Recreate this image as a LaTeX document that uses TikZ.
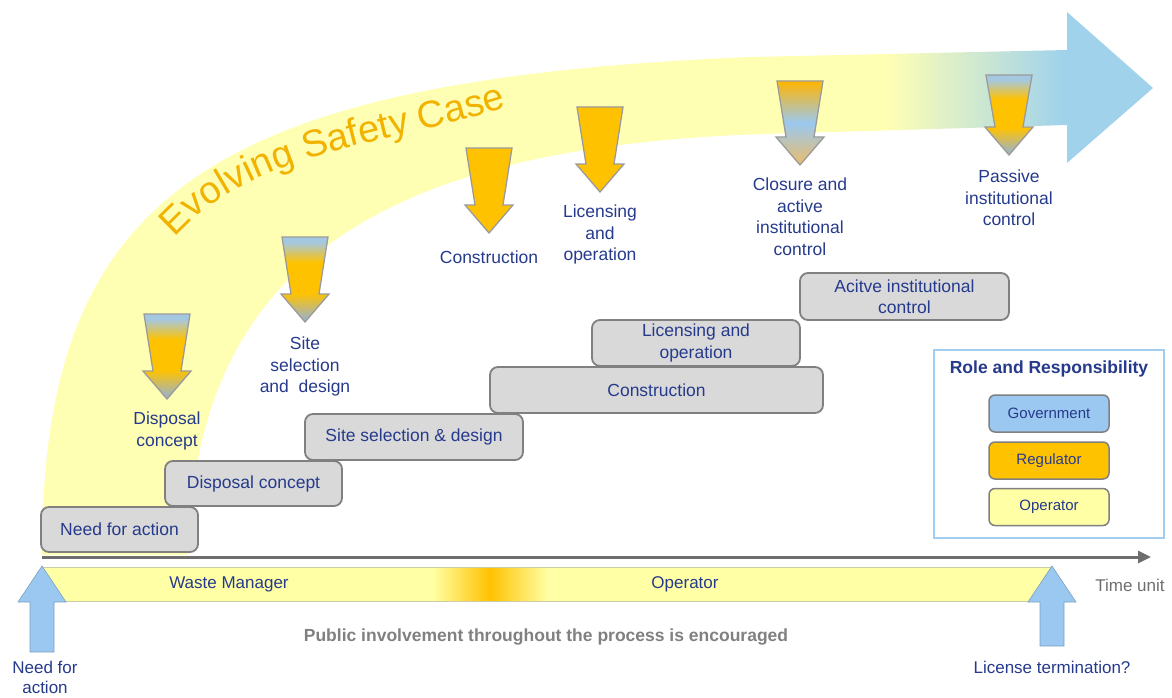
\documentclass[tikz,border=0pt]{standalone}
\usepackage{fontspec}
\setmainfont{Liberation Sans}
\usetikzlibrary{positioning,arrows.meta,decorations.text}

\definecolor{bandyellow}{RGB}{255,255,180}
\definecolor{bandblue}{RGB}{160,210,236}
\definecolor{caseorange}{RGB}{242,178,0}
\definecolor{labelblue}{RGB}{38,58,140}
\definecolor{stepgrey}{RGB}{217,217,217}
\definecolor{stepedge}{RGB}{128,128,128}
\definecolor{govblue}{RGB}{155,200,240}
\definecolor{reggold}{RGB}{255,194,0}
\definecolor{opyellow}{RGB}{255,255,165}
\definecolor{arrowedge}{RGB}{155,155,155}
\definecolor{greyblue}{RGB}{160,180,192}
\definecolor{steelblue}{RGB}{165,200,225}
\definecolor{sandorange}{RGB}{235,188,105}
\definecolor{axisgrey}{RGB}{110,110,110}
\definecolor{legendedge}{RGB}{160,205,240}
\definecolor{baredge}{RGB}{205,205,165}
\definecolor{notegrey}{RGB}{128,128,128}

\pgfdeclarehorizontalshading{bandfade}{100bp}{color(0bp)=(bandyellow); color(63bp)=(bandyellow); color(71bp)=(bandblue); color(100bp)=(bandblue)}
\pgfdeclareverticalshading{gatefade}{100bp}{color(0bp)=(greyblue); color(27bp)=(greyblue); color(42bp)=(reggold); color(60bp)=(reggold); color(72bp)=(steelblue); color(100bp)=(steelblue)}

\newcommand{\casefont}{\fontsize{38}{38}\selectfont}

\tikzset{
  stepbox/.style={draw=stepedge, fill=stepgrey, line width=1.8pt, rounded corners=8pt,
    text=labelblue, font=\fontsize{17.5}{21.5}\selectfont, align=center, inner sep=0pt},
  steplabel/.style={text=labelblue, font=\fontsize{17.5}{21.5}\selectfont, align=center, inner sep=0pt},
  rolebox/.style={draw=stepedge, line width=1.5pt, rounded corners=6pt, minimum width=120pt,
    minimum height=37pt, text=labelblue, font=\fontsize{15}{18}\selectfont},
  gatearrow/.style={draw=arrowedge, line width=1.3pt},
  bluegold/.style={shading=gatefade},
  solidgold/.style={fill=reggold},
  goldblue/.style={top color=reggold!80!orange, bottom color=sandorange, middle color=govblue},
  uparrow/.style={fill=govblue, draw=govblue!80!black, line width=0.6pt},
  bartext/.style={text=labelblue, font=\fontsize{17}{20}\selectfont, inner sep=0pt, align=center}
}

\begin{document}
\begin{tikzpicture}[x=1pt, y=-1pt]
  \useasboundingbox (0,0) rectangle (1172,698);

  % the evolving safety case band
  \path[shading=bandfade] (42,555) .. controls (42,200) and (200,80) .. (750,57) -- (1067,50)
    -- (1067,12) -- (1153,88) -- (1067,163) -- (1067,125) -- (800,133)
    .. controls (400,140) and (195,250) .. (188,555) -- cycle;
  \path[decorate, decoration={text along path, text={|\casefont|Evolving Safety Case},
    text color=caseorange, text align={left indent=14pt}}] (166,248) .. controls (243,150) and (388,146) .. (507,107) -- (580,84);

  % milestone arrows
  \foreach \cx/\ty/\len/\gap/\look/\name/\txt in {167/314/85/13/bluegold/dc/{Disposal\\concept},
      305/237/85/15/bluegold/ss/{Site\\selection\\and~~design},
      489/148/85/18/solidgold/cn/{Construction},
      600/107/85/13/solidgold/lo/{Licensing\\and\\operation},
      800/81/84/13/goldblue/cl/{Closure and\\active\\institutional\\control},
      1009/75/80/15/bluegold/pc/{Passive\\institutional\\control}} {
    \path[gatearrow, \look] (\cx-23,\ty) -- (\cx+23,\ty) -- (\cx+14,\ty+\len-28) -- (\cx+24,\ty+\len-28)
      -- (\cx,\ty+\len) -- (\cx-24,\ty+\len-28) -- (\cx-14,\ty+\len-28) -- cycle;
    \coordinate (\name tip) at (\cx,\ty+\len);
    \node[steplabel, below=\gap pt of \name tip] (\name label) {\txt};
  }

  % steps
  \node[stepbox, minimum width=157pt, minimum height=45pt] (need) at (119.5,529.5) {Need for action};
  \node[stepbox, minimum width=177pt, minimum height=45pt] (disposal) at (253.5,483.5) {Disposal concept};
  \node[stepbox, minimum width=218pt, minimum height=46pt] (site) at (414,437) {Site selection \& design};
  \node[stepbox, minimum width=208pt, minimum height=46pt] (licensing) at (696,343) {Licensing and\\operation};
  \node[stepbox, minimum width=333pt, minimum height=46pt] (construction) at (656.5,390) {Construction};
  \node[stepbox, minimum width=209pt, minimum height=47pt] (active) at (904.5,296.5) {Acitve institutional\\control};

  % legend
  \node[draw=legendedge, fill=white, line width=1.8pt, minimum width=230pt, minimum height=188pt,
    inner sep=0pt] (legend) at (1049,444) {};
  \node[text=labelblue, font=\fontsize{17.5}{20}\selectfont\bfseries] (roletitle) at (1049,369) {Role and Responsibility};
  \node[rolebox, fill=govblue] (government) at (1049,413.5) {Government};
  \node[rolebox, fill=reggold] (regulator) at (1049,460.5) {Regulator};
  \node[rolebox, fill=opyellow] (operator) at (1049,507) {Operator};

  % time axis
  \coordinate (timestart) at (42,557);
  \coordinate (timeend) at (1151,557);
  \draw[axisgrey, line width=3pt, -{Triangle[length=13pt,width=12pt]}] (timestart) -- (timeend);
  \node[text=axisgrey, font=\fontsize{17}{20}\selectfont, inner sep=0pt] (timeunit) at (1130,585) {Time unit};

  % responsibility bar
  \node[draw=baredge, fill=opyellow, line width=0.8pt, minimum width=1010pt, minimum height=34pt,
    inner sep=0pt] (bar) at (547,584) {};
  \fill[left color=opyellow, right color=opyellow, middle color=reggold] (432,568) rectangle (548,600);
  \node[bartext] (wastemanager) at (229,584) {Waste Manager};
  \node[bartext] (baroperator) at (685,584) {Operator};

  % start and end arrows
  \path[uparrow] (42,566) -- (66,602) -- (54,602) -- (54,652) -- (30,652) -- (30,602) -- (18,602) -- cycle;
  \coordinate (startfoot) at (42,652);
  \path[uparrow] (1052,566) -- (1076,602) -- (1064,602) -- (1064,646) -- (1040,646) -- (1040,602) -- (1028,602) -- cycle;
  \coordinate (endfoot) at (1052,646);
  \node[bartext, below=9pt of startfoot, xshift=3pt] (needfor) {Need for\\action};
  \node[bartext, below=15pt of endfoot] (termination) {License termination?};

  \node[text=notegrey, font=\fontsize{17.5}{20}\selectfont\bfseries, inner sep=0pt] (public) at (546,637)
    {Public involvement throughout the process is encouraged};
\end{tikzpicture}
\end{document}
